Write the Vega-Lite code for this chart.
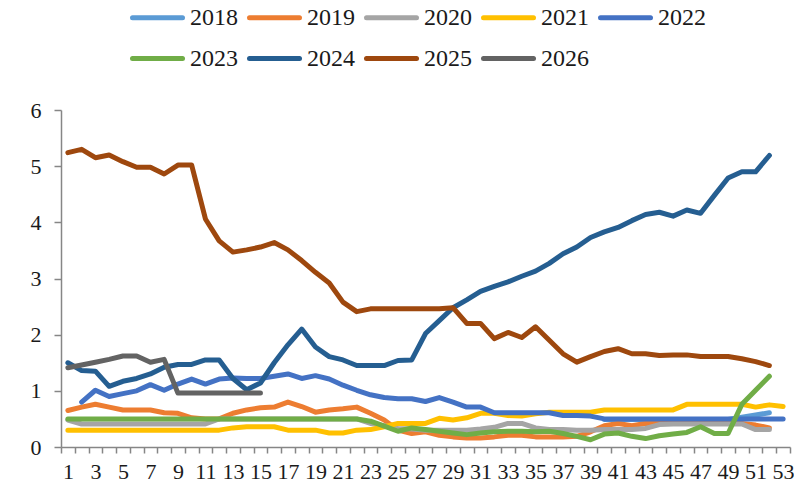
{
  "$schema": "https://vega.github.io/schema/vega-lite/v6.json",
  "width": 729,
  "height": 337,
  "autosize": {"type": "none"},
  "padding": {"left": 61, "top": 110, "right": 4, "bottom": 36},
  "background": "white",
  "config": {
    "view": {"stroke": null},
    "font": "Liberation Serif",
    "axis": {"grid": false, "domainColor": "#868686", "domainWidth": 1.5, "tickColor": "#868686", "tickWidth": 1.5, "labelFont": "Liberation Serif", "labelColor": "#1a1a1a", "title": null}
  },
  "data": {"values": [
    {"w":1,"2019":0.65,"2020":0.48,"2021":0.3,"2023":0.5,"2024":1.5,"2025":5.24,"2026":1.41},
    {"w":2,"2019":0.71,"2020":0.41,"2021":0.3,"2022":0.8,"2023":0.5,"2024":1.36,"2025":5.3,"2026":1.46},
    {"w":3,"2019":0.76,"2020":0.41,"2021":0.3,"2022":1.01,"2023":0.5,"2024":1.35,"2025":5.15,"2026":1.51},
    {"w":4,"2019":0.71,"2020":0.41,"2021":0.3,"2022":0.9,"2023":0.5,"2024":1.08,"2025":5.2,"2026":1.56},
    {"w":5,"2019":0.66,"2020":0.41,"2021":0.3,"2022":0.95,"2023":0.5,"2024":1.17,"2025":5.08,"2026":1.62},
    {"w":6,"2019":0.66,"2020":0.41,"2021":0.3,"2022":1.0,"2023":0.5,"2024":1.22,"2025":4.98,"2026":1.62},
    {"w":7,"2019":0.66,"2020":0.41,"2021":0.3,"2022":1.11,"2023":0.5,"2024":1.3,"2025":4.98,"2026":1.51},
    {"w":8,"2019":0.61,"2020":0.41,"2021":0.3,"2022":1.01,"2023":0.5,"2024":1.42,"2025":4.86,"2026":1.56},
    {"w":9,"2019":0.6,"2020":0.41,"2021":0.3,"2022":1.12,"2023":0.5,"2024":1.47,"2025":5.02,"2026":0.96},
    {"w":10,"2019":0.52,"2020":0.41,"2021":0.3,"2022":1.21,"2023":0.5,"2024":1.47,"2025":5.02,"2026":0.96},
    {"w":11,"2019":0.5,"2020":0.41,"2021":0.3,"2022":1.12,"2023":0.5,"2024":1.55,"2025":4.06,"2026":0.96},
    {"w":12,"2019":0.5,"2020":0.5,"2021":0.3,"2022":1.21,"2023":0.5,"2024":1.55,"2025":3.67,"2026":0.96},
    {"w":13,"2019":0.6,"2020":0.5,"2021":0.34,"2022":1.23,"2023":0.5,"2024":1.22,"2025":3.47,"2026":0.96},
    {"w":14,"2019":0.66,"2020":0.5,"2021":0.36,"2022":1.22,"2023":0.5,"2024":1.02,"2025":3.51,"2026":0.96},
    {"w":15,"2019":0.7,"2020":0.5,"2021":0.36,"2022":1.22,"2023":0.5,"2024":1.14,"2025":3.56,"2026":0.96},
    {"w":16,"2019":0.71,"2020":0.5,"2021":0.36,"2022":1.26,"2023":0.5,"2024":1.5,"2025":3.64},
    {"w":17,"2019":0.8,"2020":0.5,"2021":0.3,"2022":1.3,"2023":0.5,"2024":1.82,"2025":3.51},
    {"w":18,"2019":0.72,"2020":0.5,"2021":0.3,"2022":1.22,"2023":0.5,"2024":2.1,"2025":3.32},
    {"w":19,"2019":0.62,"2020":0.5,"2021":0.3,"2022":1.27,"2023":0.5,"2024":1.78,"2025":3.11},
    {"w":20,"2019":0.66,"2020":0.5,"2021":0.25,"2022":1.21,"2023":0.5,"2024":1.61,"2025":2.92},
    {"w":21,"2019":0.68,"2020":0.5,"2021":0.25,"2022":1.1,"2023":0.5,"2024":1.55,"2025":2.58},
    {"w":22,"2019":0.71,"2020":0.5,"2021":0.3,"2022":1.01,"2023":0.5,"2024":1.45,"2025":2.41},
    {"w":23,"2019":0.6,"2020":0.42,"2021":0.31,"2022":0.93,"2023":0.46,"2024":1.45,"2025":2.46},
    {"w":24,"2019":0.48,"2020":0.38,"2021":0.36,"2022":0.88,"2023":0.37,"2024":1.45,"2025":2.46},
    {"w":25,"2019":0.3,"2020":0.33,"2021":0.42,"2022":0.86,"2023":0.28,"2024":1.54,"2025":2.46},
    {"w":26,"2019":0.24,"2020":0.32,"2021":0.42,"2022":0.86,"2023":0.34,"2024":1.55,"2025":2.46},
    {"w":27,"2019":0.27,"2020":0.3,"2021":0.42,"2022":0.81,"2023":0.31,"2024":2.02,"2025":2.46},
    {"w":28,"2019":0.21,"2020":0.3,"2021":0.51,"2022":0.88,"2023":0.28,"2024":2.25,"2025":2.46},
    {"w":29,"2019":0.18,"2020":0.3,"2021":0.48,"2022":0.8,"2023":0.25,"2024":2.48,"2025":2.48},
    {"w":30,"2019":0.16,"2020":0.3,"2021":0.52,"2022":0.71,"2023":0.22,"2024":2.62,"2025":2.2},
    {"w":31,"2019":0.16,"2020":0.32,"2021":0.6,"2022":0.71,"2023":0.25,"2024":2.77,"2025":2.2},
    {"w":32,"2019":0.18,"2020":0.35,"2021":0.6,"2022":0.61,"2023":0.27,"2024":2.86,"2025":1.93},
    {"w":33,"2019":0.21,"2020":0.42,"2021":0.56,"2022":0.61,"2023":0.28,"2024":2.94,"2025":2.04},
    {"w":34,"2019":0.21,"2020":0.42,"2021":0.55,"2022":0.61,"2023":0.28,"2024":3.04,"2025":1.95},
    {"w":35,"2019":0.18,"2020":0.34,"2021":0.59,"2022":0.61,"2023":0.27,"2024":3.13,"2025":2.14},
    {"w":36,"2019":0.18,"2020":0.31,"2021":0.62,"2022":0.61,"2023":0.28,"2024":3.27,"2025":1.9},
    {"w":37,"2019":0.18,"2020":0.31,"2021":0.62,"2022":0.56,"2023":0.24,"2024":3.44,"2025":1.66},
    {"w":38,"2019":0.19,"2020":0.3,"2021":0.62,"2022":0.56,"2023":0.19,"2024":3.56,"2025":1.51},
    {"w":39,"2019":0.27,"2020":0.3,"2021":0.62,"2022":0.55,"2023":0.13,"2024":3.73,"2025":1.61},
    {"w":40,"2018":0.49,"2019":0.38,"2020":0.31,"2021":0.66,"2022":0.5,"2023":0.23,"2024":3.83,"2025":1.7},
    {"w":41,"2018":0.49,"2019":0.42,"2020":0.31,"2021":0.66,"2022":0.5,"2023":0.25,"2024":3.91,"2025":1.75},
    {"w":42,"2018":0.49,"2019":0.38,"2020":0.31,"2021":0.66,"2022":0.5,"2023":0.19,"2024":4.03,"2025":1.66},
    {"w":43,"2018":0.49,"2019":0.42,"2020":0.33,"2021":0.66,"2022":0.5,"2023":0.15,"2024":4.14,"2025":1.66},
    {"w":44,"2018":0.49,"2019":0.42,"2020":0.4,"2021":0.66,"2022":0.5,"2023":0.2,"2024":4.18,"2025":1.63},
    {"w":45,"2018":0.49,"2019":0.42,"2020":0.41,"2021":0.66,"2022":0.5,"2023":0.23,"2024":4.11,"2025":1.64},
    {"w":46,"2018":0.49,"2019":0.42,"2020":0.41,"2021":0.76,"2022":0.5,"2023":0.26,"2024":4.22,"2025":1.64},
    {"w":47,"2018":0.49,"2019":0.42,"2020":0.41,"2021":0.76,"2022":0.5,"2023":0.36,"2024":4.16,"2025":1.61},
    {"w":48,"2018":0.49,"2019":0.42,"2020":0.41,"2021":0.76,"2022":0.5,"2023":0.24,"2024":4.48,"2025":1.61},
    {"w":49,"2018":0.49,"2019":0.42,"2020":0.41,"2021":0.76,"2022":0.5,"2023":0.24,"2024":4.79,"2025":1.61},
    {"w":50,"2018":0.53,"2019":0.42,"2020":0.41,"2021":0.76,"2022":0.5,"2023":0.76,"2024":4.9,"2025":1.57},
    {"w":51,"2018":0.57,"2019":0.39,"2020":0.31,"2021":0.71,"2022":0.5,"2023":1.01,"2024":4.9,"2025":1.52},
    {"w":52,"2018":0.61,"2019":0.34,"2020":0.31,"2021":0.75,"2022":0.5,"2023":1.26,"2024":5.19,"2025":1.45},
    {"w":53,"2021":0.72,"2022":0.5}
  ]},
  "transform": [
    {"fold": ["2018","2019","2020","2021","2022","2023","2024","2025","2026"], "as": ["year","v"]}
  ],
  "mark": {"type": "line", "strokeWidth": 5, "strokeCap": "round", "strokeJoin": "round", "invalid": "break-paths-show-domains"},
  "encoding": {
    "x": {"field": "w", "type": "ordinal", "sort": null,
      "scale": {"type": "band", "paddingInner": 0, "paddingOuter": 0},
      "axis": {"labelAngle": 0, "labelFontSize": 22, "labelOverlap": false, "labelBound": false, "labelFlush": false, "tickBand": "extent", "tickSize": 6, "labelPadding": 8,
        "labelExpr": "datum.value % 2 == 1 ? datum.label : ''"}},
    "y": {"field": "v", "type": "quantitative",
      "scale": {"domain": [0, 6], "nice": false, "zero": true},
      "axis": {"values": [0,1,2,3,4,5,6], "labelFontSize": 22, "tickSize": 7, "labelPadding": 13}},
    "color": {"field": "year", "type": "nominal",
      "scale": {"domain": ["2018","2019","2020","2021","2022","2023","2024","2025","2026"],
        "range": ["#5B9BD5","#ED7D31","#A5A5A5","#FFC000","#4472C4","#70AD47","#255E91","#9E480E","#636363"]},
      "legend": {"title": null, "orient": "none", "legendX": 69, "legendY": -120, "direction": "horizontal", "columns": 5,
        "symbolType": "stroke", "symbolSize": 2500, "symbolStrokeWidth": 5, "labelFont": "Liberation Serif", "labelFontSize": 24, "labelColor": "#1a1a1a",
        "labelOffset": 5, "columnPadding": 1, "rowPadding": 1, "padding": 0,
        "encode": {"symbols": {"update": {"strokeCap": {"value": "round"}}}}}}
  }
}
